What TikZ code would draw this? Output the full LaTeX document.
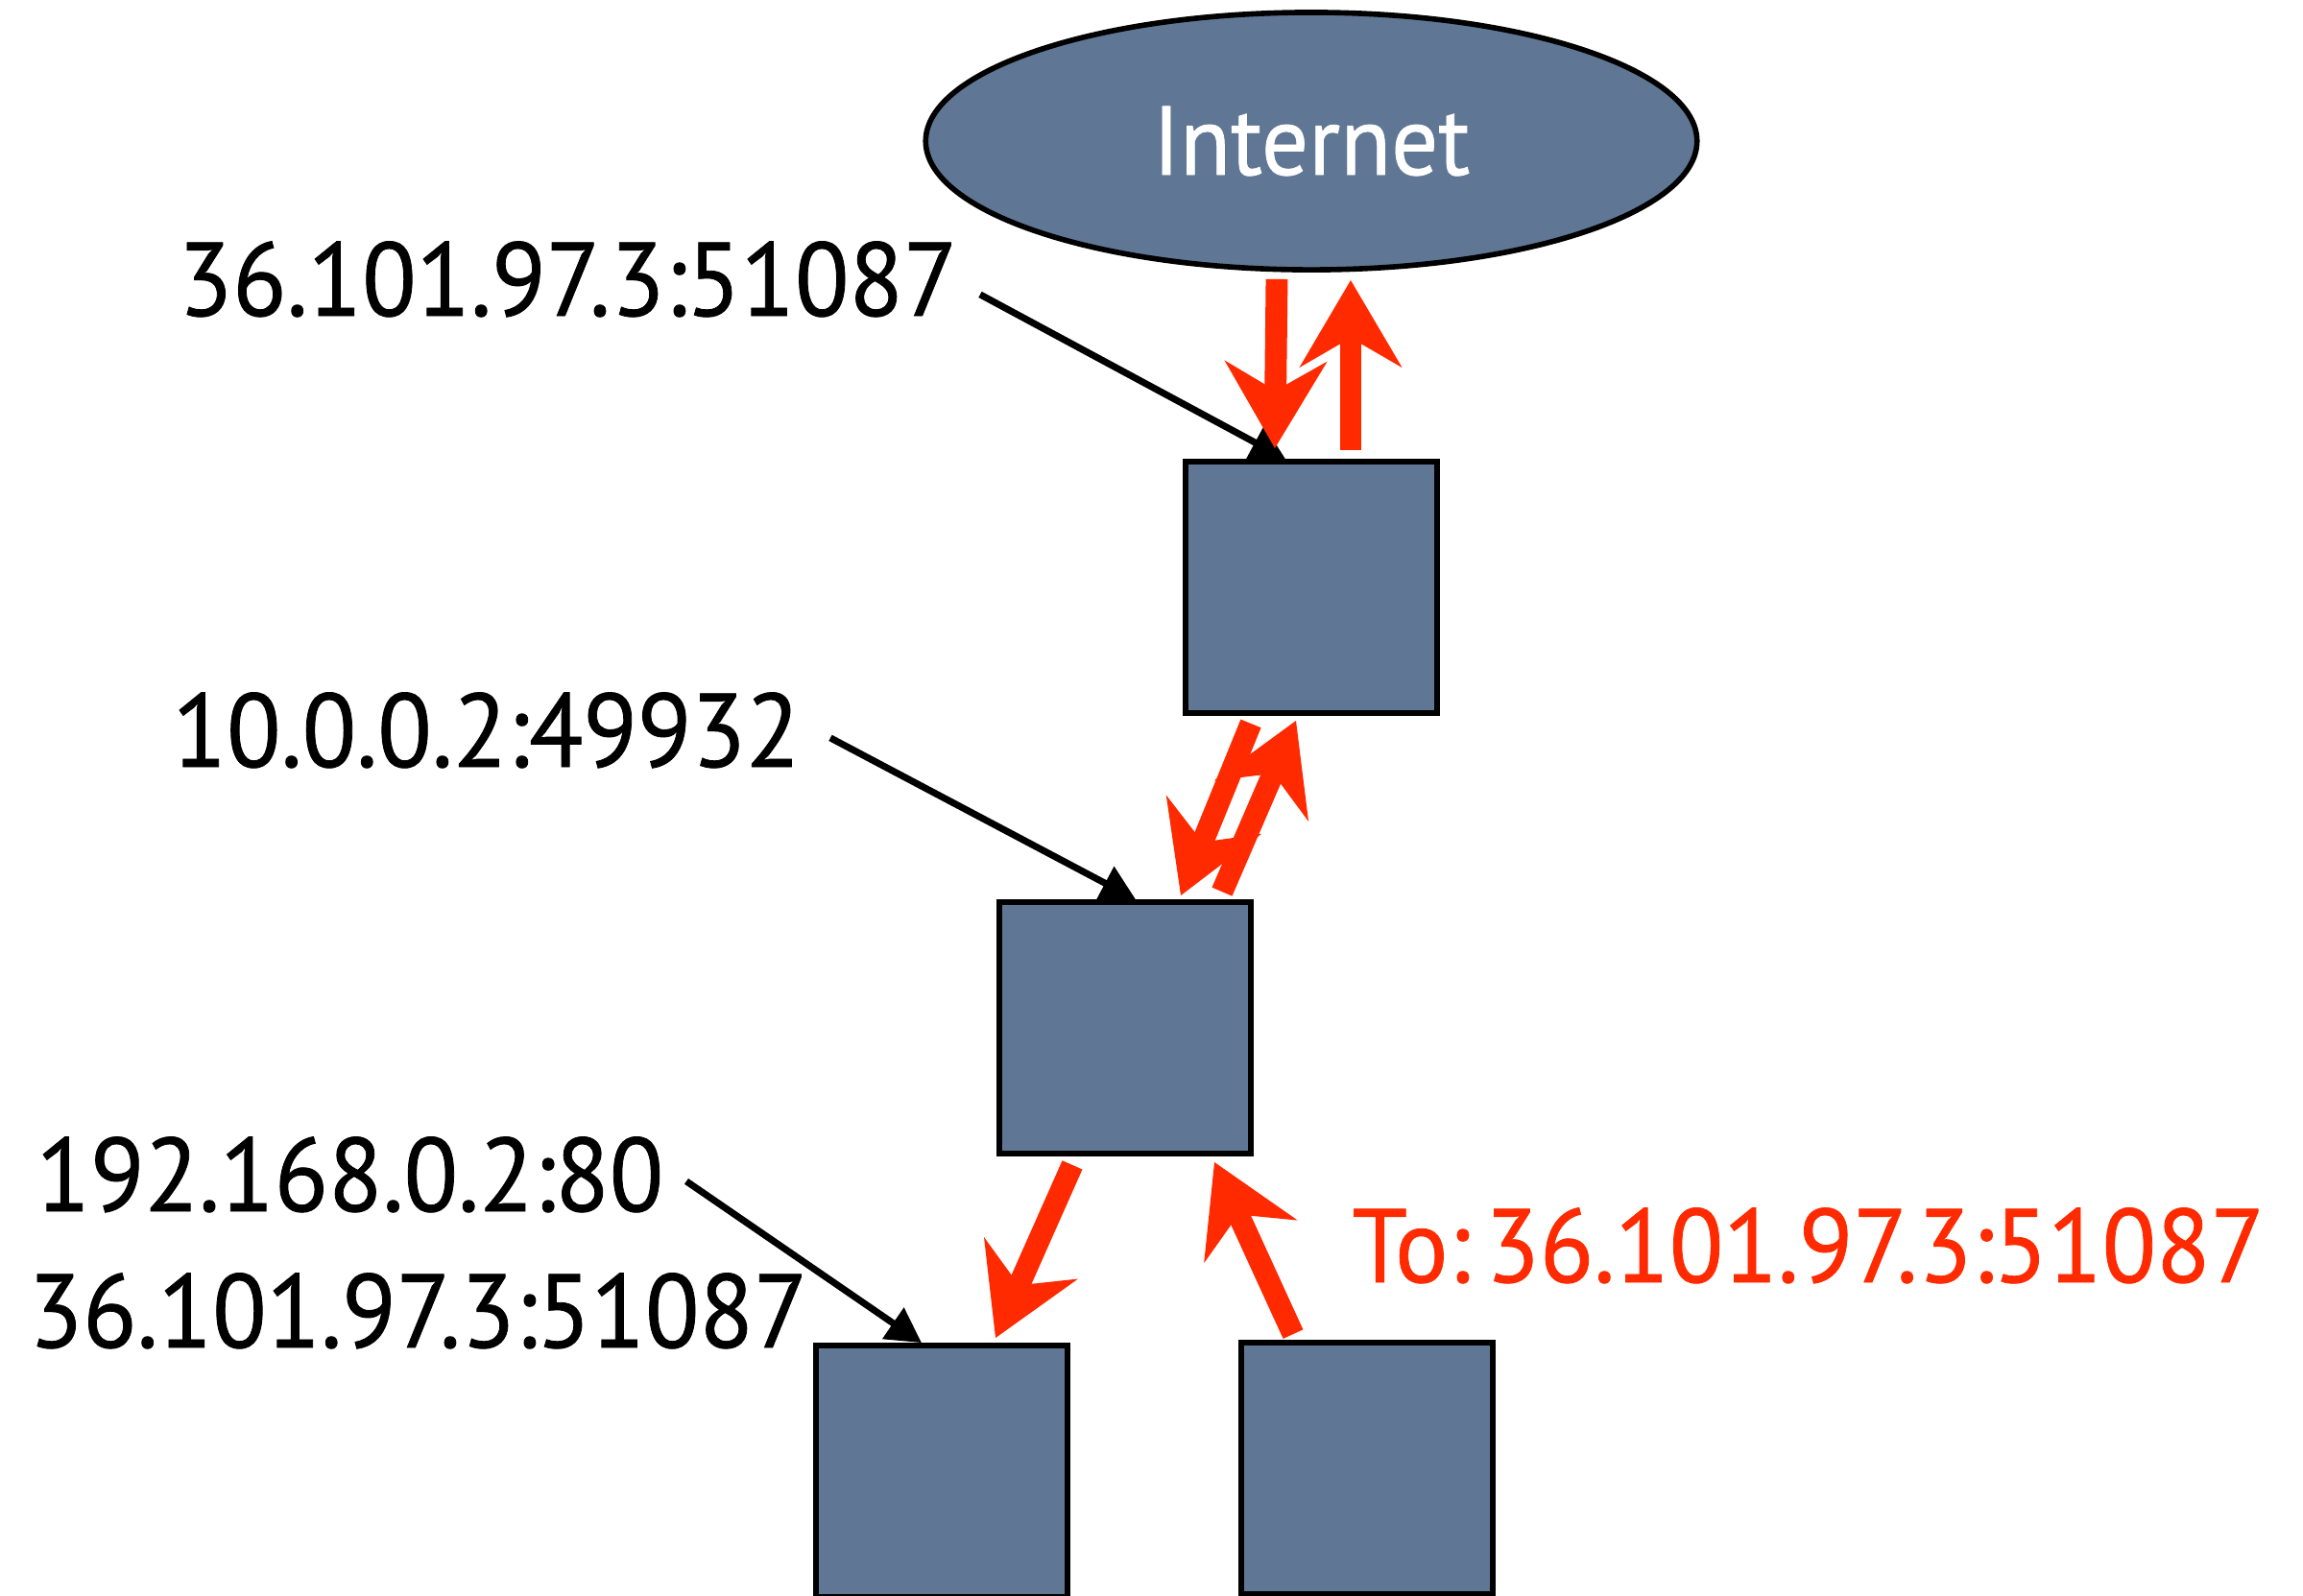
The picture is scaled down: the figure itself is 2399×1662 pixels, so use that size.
\documentclass[tikz,border=0pt]{standalone}
\usepackage{fontspec}
\setmainfont{PT Sans}[FakeStretch=0.95,FakeBold=0.7]
\usepackage{tikz}
\usetikzlibrary{arrows.meta,shapes.geometric,calc}

\definecolor{slate}{RGB}{95,119,148}
\definecolor{scribble}{RGB}{255,42,0}

\tikzset{
  hostbox/.style={draw=black, line width=1.6pt, fill=slate, minimum size=2.62cm, inner sep=0pt},
  addr/.style={font=\fontsize{31}{37}\selectfont, inner sep=0pt},
  pointer/.style={line width=2pt, -{Triangle[length=0.36cm,width=0.38cm]}},
  flow/.style={scribble, line width=6.5pt, -{Stealth[length=0.9cm,width=1.05cm,inset=0.3cm]}}
}

\begin{document}
\begin{tikzpicture}[x=0.01cm, y=-0.01cm]

  \useasboundingbox (0,0) rectangle (2399,1662);

  % Cloud
  \node[ellipse, draw=black, line width=1.6pt, fill=slate, minimum width=8.03cm,
        minimum height=2.68cm, inner sep=0pt, text=white,
        font=\fontsize{29}{35}\selectfont] (inet) at (1366,147) {Internet};

  % Boxes
  \node[hostbox] (nat)    at (1366,612)  {};
  \node[hostbox] (router) at (1172,1071) {};
  \node[hostbox] (server) at (981,1533)  {};
  \node[hostbox] (client) at (1424,1530) {};

  % Labels
  \node[addr, anchor=base east] (lblnat)    at (998,329)  {36.101.97.3:51087};
  \node[addr, anchor=base east] (lblrouter) at (834,799)  {10.0.0.2:49932};
  \node[addr, anchor=base east] (lblserver) at (692,1262) {192.168.0.2:80};
  \node[addr, anchor=base east] (lblpeer)   at (842,1404) {36.101.97.3:51087};
  \node[addr, anchor=base west, text=scribble] (lblto) at (1408,1336) {To:\kern0.15em36.101.97.3:51087};

  % Pointers
  \draw[pointer] ($(lblnat.east)+(23,16)$) -- ($(nat.north)+(-27,0)$);
  \draw[pointer] ($(lblrouter.east)+(31,8)$) -- ($(router.north)+(11,0)$);
  \draw[pointer] ($(lblserver.east)+(23,7)$) -- ($(server.north)+(-21,0)$);

  % Packet flow
  \draw[flow] ($(inet.south)+(-36,7)$) -- ($(nat.north)+(-38,-11)$);
  \draw[flow] ($(nat.north)+(41,-9)$) -- ($(inet.south)+(41,8)$);
  \draw[flow] ($(nat.south)+(-63,8)$) -- ($(router.north)+(58,-4)$);
  \draw[flow] ($(router.north)+(101,-8)$) -- ($(nat.south)+(-16,5)$);
  \draw[flow] ($(router.south)+(-55,9)$) -- ($(server.north)+(56,-5)$);
  \draw[flow] ($(client.north)+(-77,-6)$) -- ($(router.south)+(93,6)$);

\end{tikzpicture}
\end{document}
